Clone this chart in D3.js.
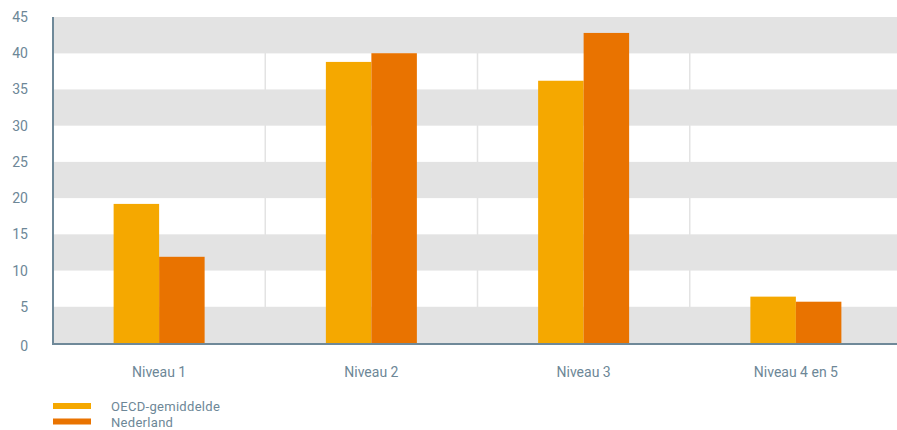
<!DOCTYPE html>
<html>
<head>
<meta charset="utf-8">
<script src="https://cdn.jsdelivr.net/npm/d3@7"></script>
<style>
  body { margin: 0; background: #fff; }
  svg { display: block; font-family: Roboto, "DejaVu Sans", sans-serif; }
</style>
</head>
<body>
<svg id="chart" width="897" height="430"></svg>
<script>
const categories = ['Niveau 1', 'Niveau 2', 'Niveau 3', 'Niveau 4 en 5'];
const seriesNames = ['OECD-gemiddelde', 'Nederland'];
const oecd = [19.2, 38.8, 36.2, 6.4];
const nederland = [11.9, 40.0, 42.8, 5.7];
const yTicks = [0, 5, 10, 15, 20, 25, 30, 35, 40, 45];
const colors = ['#f5a800', '#e97300'];

const svg = d3.select('#chart');
const textColor = '#6d8797';
const axisColor = '#6f8999';

const x = d3.scaleBand()
  .domain(categories)
  .range([53, 902])
  .padding(0);
const y = d3.scaleLinear()
  .domain([0, 45])
  .range([343, 17]);
const inner = d3.scaleBand()
  .domain(seriesNames)
  .range([0, 91]);

// grey bands (every other 5-step, starting from 0)
const bands = yTicks.slice(0, -1).filter((d, i) => i % 2 === 0);
// vertical grid lines between categories
svg.append('g')
  .selectAll('line')
  .data(categories.slice(1))
  .join('line')
    .attr('x1', d => x(d))
    .attr('x2', d => x(d))
    .attr('y1', y(45))
    .attr('y2', y(0))
    .attr('stroke', '#e3e3e3')
    .attr('stroke-width', 1.5);

svg.append('g')
  .selectAll('rect')
  .data(bands.concat([40]))
  .join('rect')
    .attr('x', 53)
    .attr('width', 897 - 53)
    .attr('y', d => y(d + 5))
    .attr('height', d => y(d) - y(d + 5))
    .attr('fill', '#e3e3e3');

// bars
const data = [];
categories.forEach((c, i) => {
  data.push({ cat: c, s: seriesNames[0], v: oecd[i] });
  data.push({ cat: c, s: seriesNames[1], v: nederland[i] });
});

svg.append('g')
  .selectAll('rect')
  .data(data)
  .join('rect')
    .attr('x', d => x(d.cat) + x.bandwidth() / 2 - 45.5 + inner(d.s))
    .attr('width', inner.bandwidth())
    .attr('y', d => y(d.v))
    .attr('height', d => y(0) - y(d.v))
    .attr('fill', d => colors[seriesNames.indexOf(d.s)]);

// axes lines
svg.append('line')
  .attr('x1', 53).attr('x2', 53)
  .attr('y1', y(45)).attr('y2', y(0) + 1)
  .attr('stroke', axisColor).attr('stroke-width', 2);
svg.append('line')
  .attr('x1', 52).attr('x2', 897)
  .attr('y1', y(0) + 1).attr('y2', y(0) + 1)
  .attr('stroke', axisColor).attr('stroke-width', 2);

// y tick labels
svg.append('g')
  .selectAll('text')
  .data(yTicks)
  .join('text')
    .attr('x', 28)
    .attr('y', d => y(d) + 5 + (d === 0 ? 3 : 0))
    .attr('text-anchor', 'end')
    .attr('fill', textColor)
    .style('font-size', '14px')
    .text(d => d);

// category labels
svg.append('g')
  .selectAll('text')
  .data(categories)
  .join('text')
    .attr('x', d => x(d) + x.bandwidth() / 2)
    .attr('y', 377)
    .attr('text-anchor', 'middle')
    .attr('fill', textColor)
    .style('font-size', '14px')
    .text(d => d);

// legend
const legend = svg.append('g')
  .selectAll('g')
  .data(seriesNames)
  .join('g')
    .attr('transform', (d, i) => `translate(53, ${403 + i * 15.5})`);
legend.append('rect')
  .attr('width', 38)
  .attr('height', 6)
  .attr('fill', (d, i) => colors[i]);
legend.append('text')
  .attr('x', 58)
  .attr('y', 8)
  .attr('fill', textColor)
  .style('font-size', '13px')
  .style('letter-spacing', '0.3px')
  .text(d => d);
</script>
</body>
</html>
